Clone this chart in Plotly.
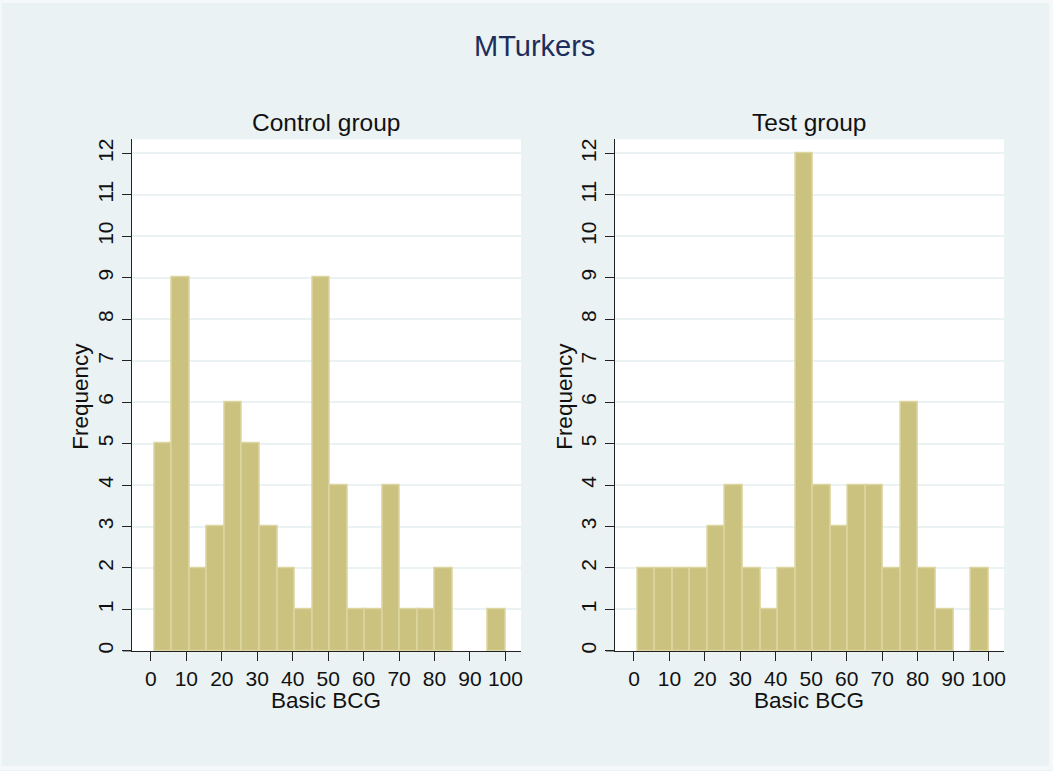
import plotly.graph_objects as go

# Histogram bins (Basic BCG), 20 bins starting at 1 with width 4.95
bin_start = 1.0
bin_width = 4.95
control_counts = [5, 9, 2, 3, 6, 5, 3, 2, 1, 9, 4, 1, 1, 4, 1, 1, 2, 0, 0, 1]
test_counts = [2, 2, 2, 2, 3, 4, 2, 1, 2, 12, 4, 3, 4, 4, 2, 6, 2, 1, 0, 2]
x_ticks = [0, 10, 20, 30, 40, 50, 60, 70, 80, 90, 100]
y_ticks = list(range(0, 13))
panel_titles = ["Control group", "Test group"]
main_title = "MTurkers"
x_title = "Basic BCG"
y_title = "Frequency"

W, H = 1053, 771
BG = "#EAF2F3"
FILL = "#CBC27F"
EDGE = "#DCD5A0"
FONT = "Liberation Sans, Arial, Helvetica, sans-serif"

centers = [bin_start + bin_width * (i + 0.5) for i in range(len(control_counts))]

fig = go.Figure()
for i, counts in enumerate([control_counts, test_counts]):
    fig.add_trace(go.Bar(
        x=centers, y=[c if c > 0 else None for c in counts], width=bin_width,
        marker=dict(color=FILL, line=dict(color=EDGE, width=1.5)),
        xaxis="x" if i == 0 else "x2", yaxis="y" if i == 0 else "y2",
        showlegend=False, hoverinfo="x+y",
    ))

ydom = [(H - 653.3) / H, (H - 139) / H]
xdoms = [[132 / W, 522 / W], [616 / W, 1006 / W]]
TICKFONT = dict(size=21, color="#111", family=FONT)

def xaxis(dom, anchor):
    return dict(domain=dom, anchor=anchor, range=[-5.4, 104.4], tickvals=x_ticks,
                ticks="outside", ticklen=9, tickcolor="#222", tickwidth=1,
                showline=True, linecolor="#222", linewidth=1, showgrid=False,
                zeroline=False, tickfont=TICKFONT, fixedrange=True)

def yaxis(anchor):
    return dict(domain=ydom, anchor=anchor, range=[0, 12.34], tickvals=y_ticks,
                ticks="outside", ticklen=9, tickcolor="#222", tickwidth=1,
                showline=True, linecolor="#222", linewidth=1, showgrid=True,
                gridcolor=BG, gridwidth=1.5, zeroline=False, tickangle=-90,
                tickfont=TICKFONT, fixedrange=True)

fig.update_layout(
    width=W, height=H, margin=dict(l=0, r=0, t=0, b=0),
    paper_bgcolor=BG, plot_bgcolor="white",
    bargap=0, font=dict(family=FONT),
    xaxis=xaxis(xdoms[0], "y"), yaxis=yaxis("x"),
    xaxis2=xaxis(xdoms[1], "y2"), yaxis2=yaxis("x2"),
)

ann = [
    dict(text=main_title, x=536 / W, y=1 - 45 / H, font=dict(size=29, color="#1E2E5C", family=FONT)),
    dict(text=panel_titles[0], x=327 / W, y=1 - 122 / H, font=dict(size=24.5, color="#111", family=FONT)),
    dict(text=panel_titles[1], x=811 / W, y=1 - 122 / H, font=dict(size=24.5, color="#111", family=FONT)),
    dict(text=x_title, x=327 / W, y=1 - 703 / H, font=dict(size=22.5, color="#111", family=FONT)),
    dict(text=x_title, x=811 / W, y=1 - 703 / H, font=dict(size=22.5, color="#111", family=FONT)),
    dict(text=y_title, x=81 / W, y=1 - 397 / H, textangle=-90, font=dict(size=22.5, color="#111", family=FONT)),
    dict(text=y_title, x=566 / W, y=1 - 397 / H, textangle=-90, font=dict(size=22.5, color="#111", family=FONT)),
]
for a in ann:
    fig.add_annotation(xref="paper", yref="paper", showarrow=False,
                       xanchor="center", yanchor="middle", **a)

# thin light frame around the graph region and x-axis extension to the left
fig.add_shape(type="rect", xref="paper", yref="paper", x0=0, y0=0, x1=1, y1=1,
              line=dict(color="#F4F8F9", width=4), layer="above")
for xd in xdoms:
    fig.add_shape(type="line", xref="paper", yref="paper",
                  x0=xd[0] - 9 / W, x1=xd[0], y0=ydom[0], y1=ydom[0],
                  line=dict(color="#222", width=1))

fig.write_html("out.html")
